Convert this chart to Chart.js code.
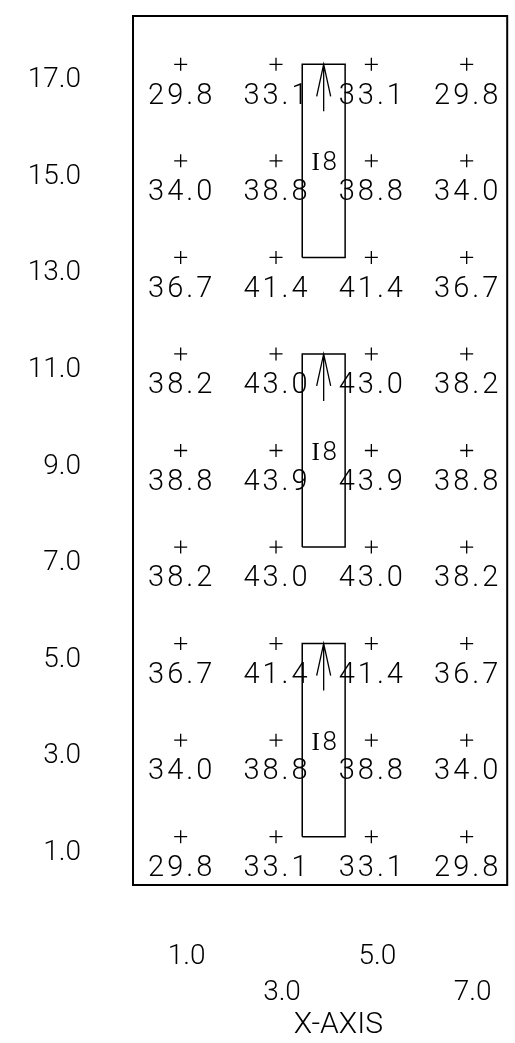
<!DOCTYPE html>
<html><head><meta charset="utf-8">
<script src="https://cdn.jsdelivr.net/npm/chart.js@4.4.1/dist/chart.umd.min.js"></script>
<style>html,body{margin:0;padding:0;background:#fff;} canvas{display:block;}</style>
</head><body>
<canvas id="c" width="515" height="1043"></canvas>
<script>
// ---- data ----
const columnsX = [1, 3, 5, 7];
const rowsY = [17, 15, 13, 11, 9, 7, 5, 3, 1];
const col1Values = [29.8, 34.0, 36.7, 38.2, 38.8, 38.2, 36.7, 34.0, 29.8];
const col3Values = [33.1, 38.8, 41.4, 43.0, 43.9, 43.0, 41.4, 38.8, 33.1];
const col5Values = [33.1, 38.8, 41.4, 43.0, 43.9, 43.0, 41.4, 38.8, 33.1];
const col7Values = [29.8, 34.0, 36.7, 38.2, 38.8, 38.2, 36.7, 34.0, 29.8];
const xTickLabels = ['1.0', '3.0', '5.0', '7.0'];
const yTickLabels = ['17.0', '15.0', '13.0', '11.0', '9.0', '7.0', '5.0', '3.0', '1.0'];
const elementX = [3.55, 4.45];
const elementSpans = [[13, 17], [7, 11], [1, 5]];
const elementLabel = 'I8';
const xAxisTitle = 'X-AXIS';

// ---- build datasets ----
const columnValues = [col1Values, col3Values, col5Values, col7Values];
const gridPoints = [];
columnsX.forEach((cx, ci) => {
  rowsY.forEach((ry, ri) => {
    gridPoints.push({x: cx, y: ry, v: columnValues[ci][ri]});
  });
});

const boxDatasets = elementSpans.map(([lo, hi]) => ({
  type: 'line',
  data: [
    {x: elementX[0], y: lo}, {x: elementX[0], y: hi},
    {x: elementX[1], y: hi}, {x: elementX[1], y: lo},
    {x: elementX[0], y: lo}
  ],
  showLine: true, fill: false, tension: 0,
  borderColor: '#000', borderWidth: 1.5, pointRadius: 0
}));

const FONT = 'Roboto';

const zeroPad = s => { s.paddingLeft = 0; s.paddingRight = 0; s.paddingTop = 0; s.paddingBottom = 0; };

const framePlugin = {
  id: 'frame',
  afterDatasetsDraw(chart) {
    const {ctx, chartArea: a} = chart;
    ctx.save();
    ctx.strokeStyle = '#000';
    ctx.lineWidth = 2;
    ctx.strokeRect(a.left, a.top, a.right - a.left, a.bottom - a.top);
    ctx.restore();
  }
};

const valueLabelPlugin = {
  id: 'valueLabels',
  afterDatasetsDraw(chart) {
    const {ctx} = chart;
    const meta = chart.getDatasetMeta(0);
    ctx.save();
    ctx.fillStyle = '#000';
    ctx.font = '300 29px ' + FONT;
    ctx.textAlign = 'center';
    ctx.textBaseline = 'middle';
    try { ctx.letterSpacing = '3px'; } catch (e) {}
    meta.data.forEach((el, i) => {
      const p = gridPoints[i];
      ctx.fillText(p.v.toFixed(1), el.x + 1, el.y + 32);
    });
    ctx.restore();
  }
};

const elementPlugin = {
  id: 'elementMarks',
  afterDatasetsDraw(chart) {
    const {ctx, scales: {x, y}} = chart;
    const xm = x.getPixelForValue((elementX[0] + elementX[1]) / 2);
    ctx.save();
    ctx.strokeStyle = '#000';
    ctx.fillStyle = '#000';
    ctx.lineWidth = 1.3;
    elementSpans.forEach(([lo, hi]) => {
      const yt = y.getPixelForValue(hi);
      ctx.beginPath();
      ctx.moveTo(xm, yt);
      ctx.lineTo(xm, yt + 47);
      ctx.moveTo(xm - 7, yt + 32);
      ctx.lineTo(xm, yt);
      ctx.lineTo(xm + 7, yt + 32);
      ctx.stroke();
      ctx.font = '300 25px "Liberation Serif"';
      ctx.textAlign = 'center';
      ctx.textBaseline = 'middle';
      ctx.fillText(elementLabel.charAt(0), xm - 8, y.getPixelForValue((lo + hi) / 2) + 3);
      ctx.font = '300 26px ' + FONT;
      ctx.fillText(elementLabel.slice(1), xm + 6, y.getPixelForValue((lo + hi) / 2) + 3);
    });
    ctx.restore();
  }
};

new Chart(document.getElementById('c'), {
  type: 'scatter',
  data: {
    datasets: [
      {
        data: gridPoints,
        pointStyle: 'cross',
        pointRadius: 6.5,
        pointBorderWidth: 1.3,
        pointBorderColor: '#000',
        pointBackgroundColor: '#000',
        showLine: false
      },
      ...boxDatasets
    ]
  },
  options: {
    responsive: false,
    animation: false,
    devicePixelRatio: 1,
    layout: {padding: {top: 16, right: 7, left: 0, bottom: 0}},
    plugins: {legend: {display: false}, tooltip: {enabled: false}},
    scales: {
      x: {
        type: 'linear', min: 0, max: 7.85,
        grid: {display: false, drawTicks: false},
        border: {display: false},
        afterBuildTicks: s => { s.ticks = columnsX.map(v => ({value: v})); },
        afterFit: s => { s.height = 158; zeroPad(s); },
        ticks: {
          autoSkip: false, maxRotation: 0, minRotation: 0,
          color: '#000', padding: 54, labelOffset: 6,
          font: {family: FONT, size: 28, weight: 300, lineHeight: '36px'},
          callback: (v) => {
            const i = columnsX.indexOf(v);
            return i % 2 ? ['', xTickLabels[i]] : xTickLabels[i];
          }
        },
        title: {
          display: true, text: '     ' + xAxisTitle, color: '#000',
          font: {family: FONT, size: 30, weight: 300, lineHeight: 1.2},
          padding: {top: 0, bottom: 0}
        }
      },
      y: {
        type: 'linear', min: 0, max: 18,
        grid: {display: false, drawTicks: false},
        border: {display: false},
        afterBuildTicks: s => { s.ticks = rowsY.map(v => ({value: v})); },
        afterFit: s => { s.width = 133; zeroPad(s); },
        ticks: {
          autoSkip: false, color: '#000', padding: 52, labelOffset: 16,
          font: {family: FONT, size: 28, weight: 300},
          callback: (v) => yTickLabels[rowsY.indexOf(v)]
        }
      }
    }
  },
  plugins: [framePlugin, valueLabelPlugin, elementPlugin]
});
</script>
</body></html>
